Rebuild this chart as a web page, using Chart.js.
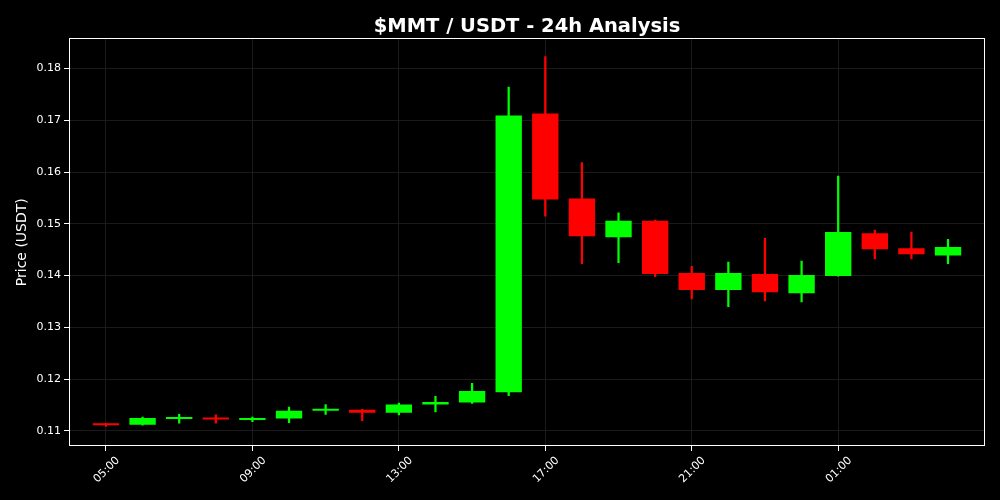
<!DOCTYPE html>
<html>
<head>
<meta charset="utf-8">
<script src="https://cdn.jsdelivr.net/npm/chart.js@4.4.1/dist/chart.umd.min.js"></script>
<style>
  html, body { margin: 0; padding: 0; background: #000; }
  #wrap { width: 1000px; height: 500px; }
</style>
</head>
<body>
<div id="wrap"><canvas id="candles" width="1000" height="500"></canvas></div>
<script>
// hourly candles, 05:00 -> 04:00
const hours = ['05:00','06:00','07:00','08:00','09:00','10:00','11:00','12:00','13:00','14:00','15:00','16:00',
               '17:00','18:00','19:00','20:00','21:00','22:00','23:00','00:00','01:00','02:00','03:00','04:00'];
const opens  = [0.1113,0.1112,0.1123,0.1126,0.1121,0.1124,0.1139,0.1141,0.1135,0.1151,0.1155,0.1175,
                0.1713,0.1549,0.1474,0.1506,0.1405,0.1372,0.1403,0.1366,0.1399,0.1482,0.1453,0.1439];
const closes = [0.1111,0.1125,0.1126,0.1122,0.1123,0.1139,0.1142,0.1135,0.1151,0.1156,0.1177,0.1709,
                0.1547,0.1476,0.1506,0.1403,0.1372,0.1405,0.1368,0.1401,0.1484,0.1451,0.1441,0.1455];
const highs  = [0.1115,0.1127,0.1132,0.1131,0.1127,0.1146,0.1151,0.1142,0.1154,0.1167,0.1192,0.1764,
                0.1823,0.1618,0.1521,0.1507,0.1418,0.1426,0.1472,0.1428,0.1592,0.1488,0.1484,0.1470];
const lows   = [0.1109,0.1111,0.1115,0.1115,0.1118,0.1116,0.1132,0.1120,0.1131,0.1137,0.1153,0.1168,
                0.1515,0.1423,0.1425,0.1398,0.1355,0.1340,0.1351,0.1349,0.1399,0.1432,0.1432,0.1423];
const xTickIdx = [0, 4, 8, 12, 16, 20];
const yTicks = [0.11, 0.12, 0.13, 0.14, 0.15, 0.16, 0.17, 0.18];

const UP = '#00ff00', DOWN = '#ff0000';
const colors = opens.map((o, i) => closes[i] >= o ? UP : DOWN);

const frame = {
  id: 'frame',
  afterDatasetsDraw(chart) {
    const a = chart.chartArea, ctx = chart.ctx;
    ctx.save();
    ctx.strokeStyle = '#fff';
    ctx.lineWidth = 1;
    ctx.strokeRect(Math.round(a.left) + 0.5, Math.round(a.top) + 0.5,
                   Math.round(a.right - a.left) - 1, Math.round(a.bottom - a.top) - 1);
    ctx.restore();
  }
};

const font = 'DejaVu Sans';

new Chart(document.getElementById('candles'), {
  type: 'bar',
  data: {
    datasets: [
      {
        label: 'body',
        data: opens.map((o, i) => ({ x: i, y: [o, closes[i]] })),
        backgroundColor: colors,
        borderWidth: 0,
        minBarLength: 2,
        categoryPercentage: 0.8,
        barPercentage: 0.9,
        grouped: false
      },
      {
        label: 'wick',
        data: highs.map((h, i) => ({ x: i, y: [lows[i], h] })),
        backgroundColor: colors,
        borderWidth: 0,
        barThickness: 1.6,
        grouped: false
      }
    ]
  },
  options: {
    responsive: false,
    animation: false,
    layout: { padding: { left: 0, right: 15, top: 0, bottom: 0 } },
    plugins: {
      legend: { display: false },
      tooltip: { enabled: false },
      title: {
        display: true,
        text: '$MMT / USDT - 24h Analysis',
        color: '#fff',
        fullSize: false,
        font: { family: font, size: 19.5, weight: 'bold' },
        padding: { top: 15, bottom: 0 }
      }
    },
    scales: {
      x: {
        type: 'linear',
        offset: false,
        min: -1.01,
        max: 24.01,
        afterBuildTicks: s => { s.ticks = xTickIdx.map(v => ({ value: v })); },
        afterFit: s => { s.height = 54; },
        grid: { color: '#1a1a1a', tickColor: '#fff', tickLength: 5, offset: false },
        border: { display: false },
        ticks: {
          color: '#fff',
          font: { family: font, size: 11 },
          minRotation: 45,
          maxRotation: 45,
          labelOffset: 12,
          callback: v => hours[v]
        }
      },
      y: {
        min: 0.1071,
        max: 0.1858,
        afterBuildTicks: s => { s.ticks = yTicks.map(v => ({ value: v })); },
        afterFit: s => { s.width = 69; },
        grid: { color: '#1a1a1a', tickColor: '#fff', tickLength: 5 },
        border: { display: false },
        ticks: {
          color: '#fff',
          font: { family: font, size: 11 },
          callback: v => v.toFixed(2)
        },
        title: {
          display: true,
          text: 'Price (USDT)',
          color: '#fff',
          font: { family: font, size: 14 },
          padding: { top: 14, bottom: 0 }
        }
      }
    }
  },
  plugins: [frame]
});
</script>
</body>
</html>
